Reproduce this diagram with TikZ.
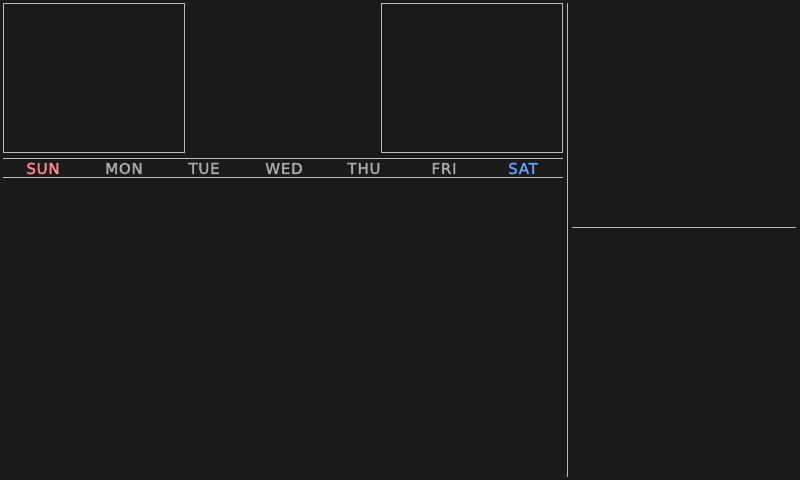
\documentclass[tikz,border=0pt]{standalone}
\usepackage{fontspec}
\setmainfont{DejaVu Sans}
\newfontfamily\dayfont{DejaVu Sans}[FakeBold=2.2,LetterSpace=5]
\definecolor{bg}{HTML}{1B1B1B}
\definecolor{ln}{HTML}{BBBBBB}
\definecolor{dayc}{HTML}{AAAAAA}
\definecolor{sunc}{HTML}{FF8A8A}
\definecolor{satc}{HTML}{6B9BFF}
\begin{document}
\begin{tikzpicture}[x=1pt,y=-1pt,
  rule/.style={draw=ln,line width=1pt},
  day/.style={font=\dayfont\fontsize{15}{17}\selectfont, text=dayc, anchor=center, inner sep=0pt}]
\fill[bg] (0,0) rectangle (800,480);
\useasboundingbox (0,0) rectangle (800,480);
\node[rule,minimum width=181pt,minimum height=149pt,inner sep=0pt,anchor=north west] (boxL) at (2.5,2.5) {};
\node[rule,minimum width=181pt,minimum height=149pt,inner sep=0pt,anchor=north west] (boxR) at (380.5,2.5) {};
\coordinate (h1a) at (3,158.5); \coordinate (h1b) at (563,158.5);
\coordinate (h2a) at (3,177.5); \coordinate (h2b) at (563,177.5);
\draw[rule] (h1a) -- (h1b);
\draw[rule] (h2a) -- (h2b);
\coordinate (va) at (567.5,3); \coordinate (vb) at (567.5,477);
\draw[rule] (va) -- (vb);
\coordinate (ra) at (572,227.5); \coordinate (rb) at (796,227.5);
\draw[rule] (ra) -- (rb);
\node[day,text=sunc] (sun) at (43,168.5) {SUN};
\node[day] (mon) at (124,168.5) {MON};
\node[day] (tue) at (204,168.5) {TUE};
\node[day] (wed) at (284,168.5) {WED};
\node[day] (thu) at (364,168.5) {THU};
\node[day] (fri) at (444,168.5) {FRI};
\node[day,text=satc] (sat) at (523,168.5) {SAT};
\end{tikzpicture}
\end{document}
